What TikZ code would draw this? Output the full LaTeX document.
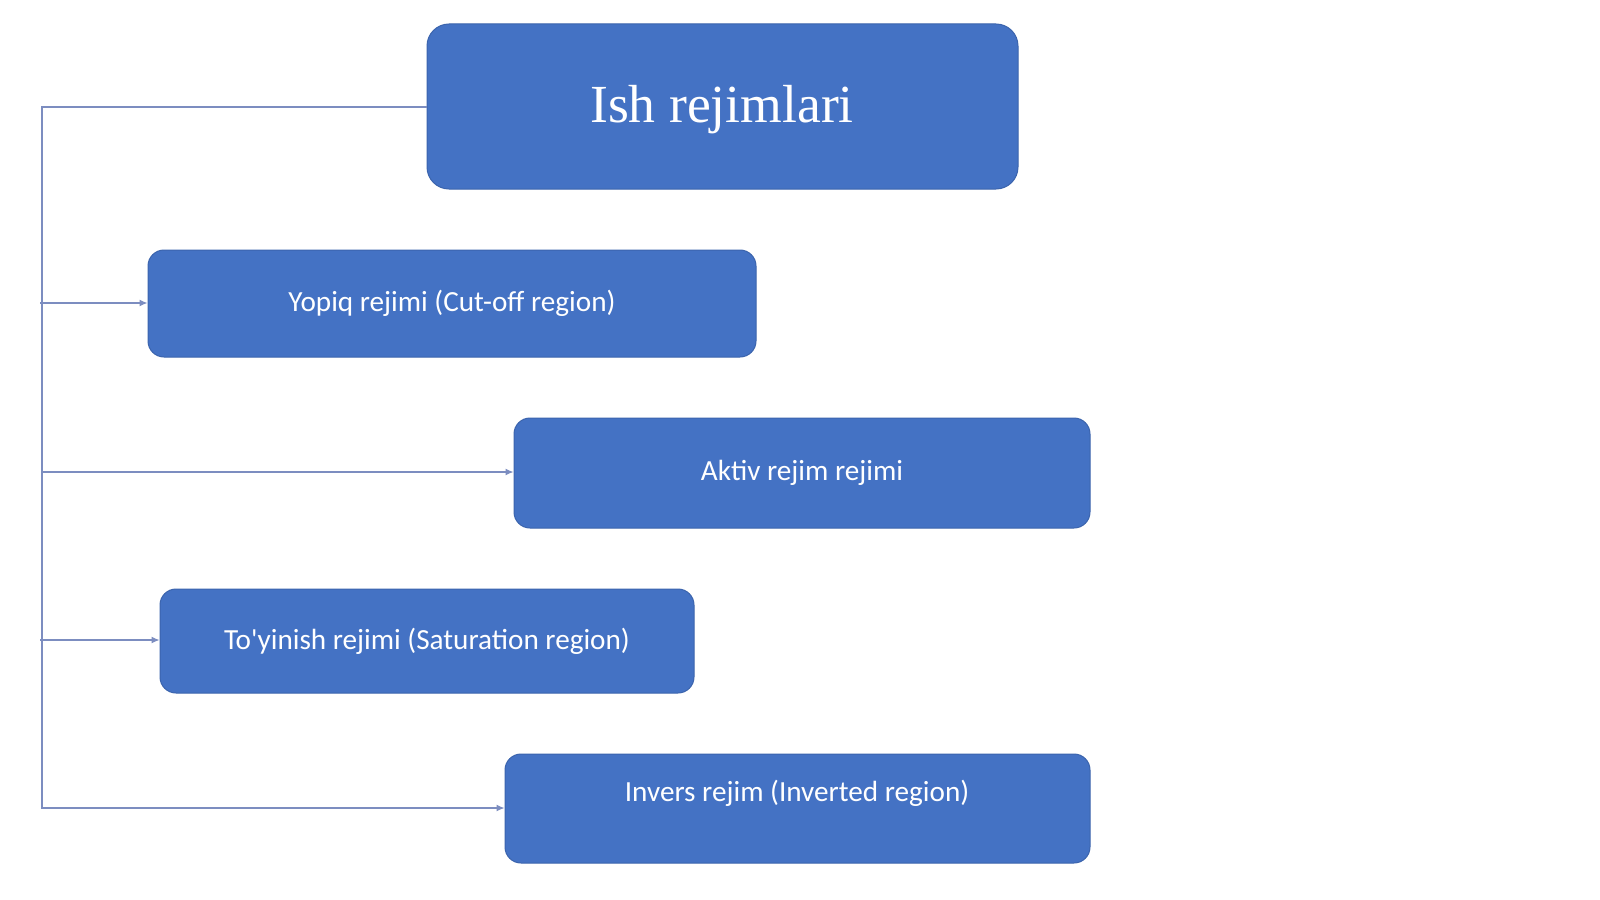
\documentclass[tikz,border=0pt]{standalone}
\usepackage{fontspec}
\setmainfont{Carlito}
\newfontfamily\titlefont{Liberation Serif}
\usetikzlibrary{arrows.meta}
\definecolor{boxblue}{HTML}{4472C4}
\definecolor{boxedge}{HTML}{3B64AD}
\definecolor{linecol}{HTML}{7C8DC0}
\begin{document}
\begin{tikzpicture}[x=0.5pt,y=-0.5pt,
  box/.style={rectangle, rounded corners=8pt, fill=boxblue, draw=boxedge, line width=0.5pt, inner sep=0pt, text=white, font=\fontsize{14.6}{16}\selectfont},
  conn/.style={draw=linecol, line width=0.6pt, -{Latex[length=4pt,width=3.5pt]}}]
\useasboundingbox[fill=white] (0,0) rectangle (1600,899);
\node[box, rounded corners=11pt, minimum width=295.5pt, minimum height=82.5pt] (top) at (722.5,106.5) {};
\node[text=white, inner sep=0pt, font=\titlefont\fontsize{26.8}{30}\selectfont] (topt) at (722,110) {Ish rejimlari};
\node[box, minimum width=304pt, minimum height=53.5pt] (b1) at (452,303.5) {Yopiq rejimi (Cut-off region)};
\node[box, minimum width=288pt, minimum height=55pt] (b2) at (802,473) {Aktiv rejim rejimi};
\node[box, minimum width=267pt, minimum height=52pt] (b3) at (427,641) {To\textquotesingle yinish rejimi (Saturation region)};
\node[box, minimum width=292.5pt, minimum height=54.5pt] (b4) at (797.5,808.5) {};
\node[text=white, inner sep=0pt, font=\fontsize{14.6}{16}\selectfont] (b4t) at (797,793) {Invers rejim (Inverted region)};
\coordinate (tl) at (42,107);
\coordinate (bl) at (42,808);
\coordinate (s1) at (40,303);
\coordinate (s2) at (42,472);
\coordinate (s3) at (40,640);
\draw[conn] (top.west |- tl) -- (tl) -- (bl) -- (b4.west |- bl);
\draw[conn] (s1) -- (b1.west |- s1);
\draw[conn] (s2) -- (b2.west |- s2);
\draw[conn] (s3) -- (b3.west |- s3);
\end{tikzpicture}
\end{document}
